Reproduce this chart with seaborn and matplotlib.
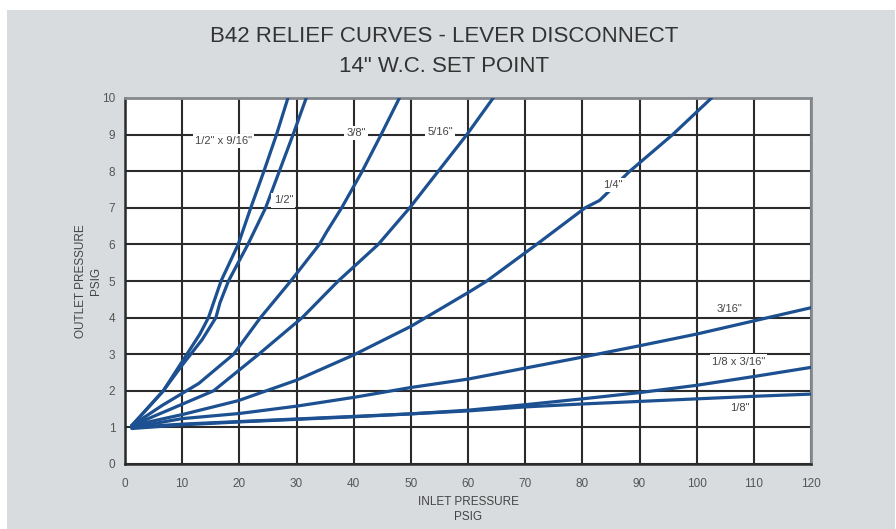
import pandas as pd
import seaborn as sns
import matplotlib.pyplot as plt
from matplotlib.patches import Rectangle

sns.set_style("white")
plt.rcParams['font.family'] = ['Liberation Sans', 'DejaVu Sans']

# curve readings (inlet psig, outlet psig)
x_half_916 = [1.2, 6.7, 10, 13.1, 14.6, 16.8, 19.8, 22.0, 24.3, 26.5, 28.5]
y_half_916 = [1.05, 2.0, 2.8, 3.55, 4.0, 5.0, 6.0, 7.0, 8.0, 9.0, 10.0]
x_half = [1.2, 6.7, 10, 13.5, 15.9, 16.6, 18.1, 21.5, 24.6, 27.0, 29.4, 31.7]
y_half = [1.05, 2.0, 2.7, 3.4, 4.0, 4.4, 5.0, 6.0, 7.0, 8.0, 9.0, 10.0]
x_38 = [1.2, 6.5, 12.9, 19.0, 23.7, 29.0, 34.0, 35.3, 37.9, 41.5, 44.8, 48.0]
y_38 = [1.05, 1.6, 2.2, 3.0, 4.0, 5.0, 6.0, 6.35, 7.0, 8.0, 9.0, 10.0]
x_516 = [1.2, 8.0, 15.5, 23.4, 31.0, 37.3, 44.3, 49.8, 54.8, 59.8, 64.4]
y_516 = [1.05, 1.5, 2.0, 3.0, 4.0, 5.0, 6.0, 7.0, 8.0, 9.0, 10.0]
x_14 = [1.2, 10, 19.8, 30, 40, 50, 60.3, 63.3, 72.0, 80.5, 83, 88.3, 95.8, 102.6]
y_14 = [1.05, 1.35, 1.73, 2.29, 2.98, 3.76, 4.71, 5.0, 6.0, 7.0, 7.2, 8.0, 9.0, 10.0]
x_316 = [1.2, 10, 20, 30, 40, 50, 60, 70, 80, 90, 100, 110, 120]
y_316 = [1.0, 1.24, 1.38, 1.58, 1.82, 2.09, 2.32, 2.62, 2.92, 3.23, 3.55, 3.91, 4.27]
x_18_316 = [1.2, 10, 20, 30, 40, 50, 60, 70, 80, 90, 100, 110, 120]
y_18_316 = [0.97, 1.07, 1.15, 1.22, 1.29, 1.37, 1.47, 1.62, 1.78, 1.95, 2.15, 2.39, 2.64]
x_18 = [1.2, 10, 20, 30, 40, 50, 60, 70, 80, 90, 100, 110, 120]
y_18 = [1.0, 1.09, 1.16, 1.23, 1.3, 1.37, 1.45, 1.56, 1.64, 1.71, 1.78, 1.85, 1.91]

curves = {
    '1/2" x 9/16"': (x_half_916, y_half_916),
    '1/2"': (x_half, y_half),
    '3/8"': (x_38, y_38),
    '5/16"': (x_516, y_516),
    '1/4"': (x_14, y_14),
    '3/16"': (x_316, y_316),
    '1/8 x 3/16"': (x_18_316, y_18_316),
    '1/8"': (x_18, y_18),
}
label_pos = {
    '1/2" x 9/16"': (17.2, 8.82),
    '1/2"': (27.7, 7.2),
    '3/8"': (40.4, 9.05),
    '5/16"': (55.1, 9.08),
    '1/4"': (85.4, 7.62),
    '3/16"': (105.8, 4.23),
    '1/8 x 3/16"': (107.3, 2.80),
    '1/8"': (107.5, 1.52),
}

rows = []
for name, (xs, ys) in curves.items():
    for i, (a, b) in enumerate(zip(xs, ys)):
        rows.append({'size': name, 'inlet': a, 'outlet': b, 'order': i})
df = pd.DataFrame(rows)

blue = '#1c5090'
fig = plt.figure(figsize=(8.96, 5.29), dpi=100)
bg = Rectangle((7 / 896, 0), 888 / 896, 519 / 529, transform=fig.transFigure,
               facecolor='#d9dcdf', edgecolor='none', zorder=-10)
fig.add_artist(bg)
ax = fig.add_axes([125 / 896, 1 - 464 / 529, 686 / 896, 366 / 529])
ax.set_zorder(1)
ax.set_facecolor('white')

sns.lineplot(data=df, x='inlet', y='outlet', hue='size', palette={k: blue for k in curves},
             sort=False, estimator=None, units='size', legend=False, lw=2.3, ax=ax, zorder=3)

ax.set_xlim(0, 120)
ax.set_ylim(0, 10)
ax.set_xticks(range(0, 121, 10))
ax.set_yticks(range(0, 11))
ax.grid(True, color='#2b2b2b', lw=1.5, zorder=1)
ax.set_axisbelow(True)
for s in ['left', 'bottom']:
    ax.spines[s].set_color('#2b2b2b')
    ax.spines[s].set_linewidth(1.8)
for s in ['top', 'right']:
    ax.spines[s].set_color('#85898d')
    ax.spines[s].set_linewidth(2)
ax.tick_params(axis='both', which='both', direction='out', length=4, width=1.5, color='#2b2b2b',
               labelsize=8.5, labelcolor='#555555', pad=3)
ax.tick_params(axis='x', pad=6)

for name, (tx, ty) in label_pos.items():
    ax.text(tx, ty, name, fontsize=8, color='#444444', ha='center', va='center', zorder=5,
            bbox=dict(facecolor='white', edgecolor='none', pad=1.5))

ax.set_xlabel('INLET PRESSURE\nPSIG', fontsize=8.5, color='#444444', linespacing=1.35)
ax.set_ylabel('OUTLET PRESSURE\nPSIG', fontsize=8.5, color='#444444', linespacing=1.35)
ax.xaxis.set_label_coords(0.5, -0.088)
ax.yaxis.set_label_coords(-0.034, 0.5)

fig.text(0.496, 1 - 36 / 529, 'B42 RELIEF CURVES - LEVER DISCONNECT', ha='center', va='center',
         fontsize=16, color='#333333')
fig.text(0.496, 1 - 67 / 529, '14" W.C. SET POINT', ha='center', va='center',
         fontsize=16, color='#333333')

fig.savefig('out.png', dpi=100)
